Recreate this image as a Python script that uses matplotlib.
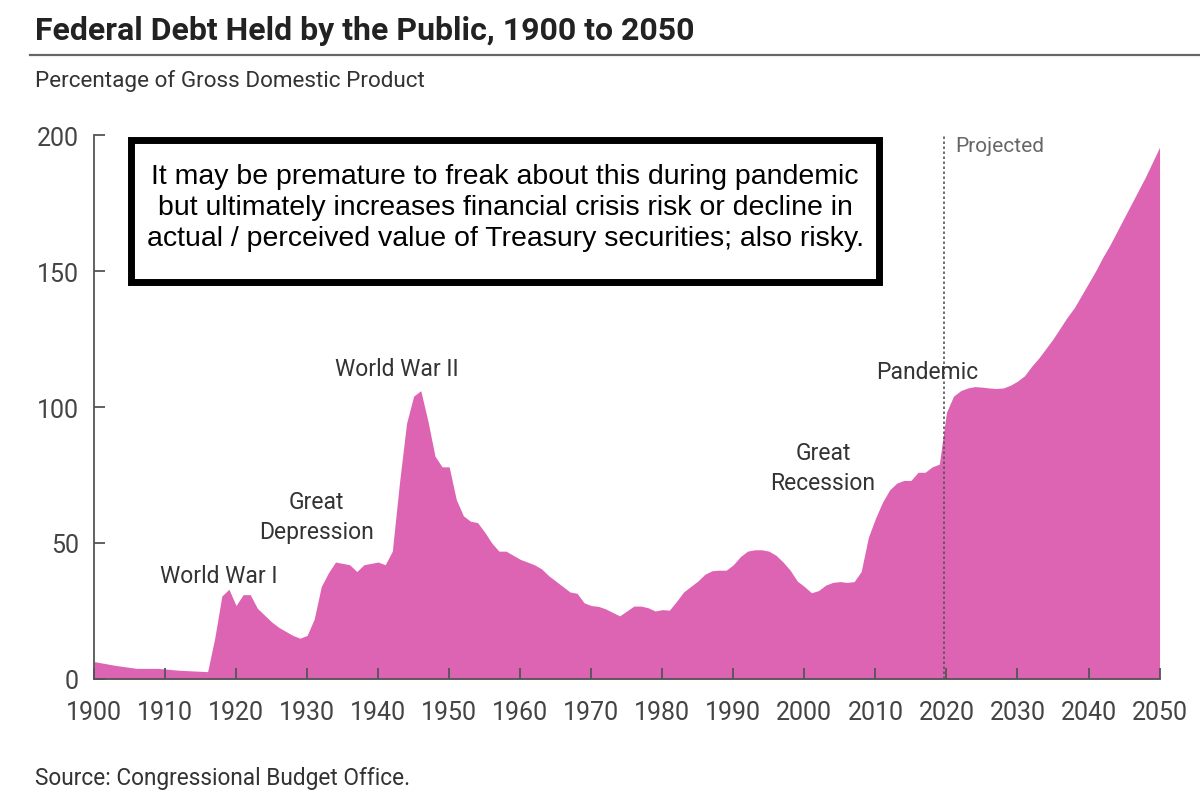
import numpy as np
import matplotlib.pyplot as plt
from matplotlib.patches import Rectangle

# debt held by the public, % of GDP
years = [1900, 1903, 1906, 1909, 1912, 1916, 1917, 1918, 1919, 1920,
         1921, 1922, 1923, 1924, 1925, 1926, 1927, 1928, 1929, 1930,
         1931, 1932, 1933, 1934, 1935, 1936, 1937, 1938, 1939, 1940,
         1941, 1942, 1943, 1944, 1945, 1946, 1947, 1948, 1949, 1950,
         1951, 1952, 1953, 1954, 1955, 1956, 1957, 1958, 1959, 1960,
         1961, 1962, 1963, 1964, 1965, 1966, 1967, 1968, 1969, 1970,
         1971, 1972, 1973, 1974, 1975, 1976, 1977, 1978, 1979, 1980,
         1981, 1982, 1983, 1984, 1985, 1986, 1987, 1988, 1989, 1990,
         1991, 1992, 1993, 1994, 1995, 1996, 1997, 1998, 1999, 2000,
         2001, 2002, 2003, 2004, 2005, 2006, 2007, 2008, 2009, 2010,
         2011, 2012, 2013, 2014, 2015, 2016, 2017, 2018, 2019, 2020,
         2021, 2022, 2023, 2024, 2025, 2026, 2027, 2028, 2029, 2030,
         2031, 2032, 2033, 2034, 2035, 2036, 2037, 2038, 2039, 2040,
         2041, 2042, 2043, 2044, 2045, 2046, 2047, 2048, 2049, 2050]
debt = [6.4, 5.0, 3.9, 3.9, 3.2, 2.7, 15.0, 30.5, 33.0, 27.0,
        31.0, 31.0, 26.0, 23.5, 21.0, 19.0, 17.5, 16.0, 15.0, 16.0,
        22.0, 34.0, 39.0, 43.0, 42.5, 42.0, 39.5, 42.0, 42.5, 43.0,
        42.0, 47.0, 72.0, 94.0, 104.0, 106.0, 95.0, 82.0, 78.0, 78.0,
        66.0, 60.0, 58.0, 57.5, 54.0, 50.0, 47.0, 47.0, 45.5, 44.0,
        43.0, 42.0, 40.5, 38.0, 36.0, 34.0, 32.0, 31.5, 28.0, 27.0,
        26.7, 25.8, 24.5, 23.2, 25.0, 26.8, 26.8, 26.2, 25.0, 25.5,
        25.3, 28.5, 32.0, 34.0, 36.0, 38.5, 39.8, 40.0, 40.0, 42.0,
        45.0, 47.0, 47.5, 47.5, 47.0, 45.5, 43.0, 40.0, 36.0, 34.0,
        31.7, 32.5, 34.5, 35.5, 35.8, 35.5, 35.8, 39.5, 52.0, 59.0,
        65.0, 69.5, 72.0, 73.0, 73.0, 76.0, 76.0, 78.0, 79.0, 98.0,
        104.0, 106.0, 107.0, 107.5, 107.3, 107.0, 106.8, 107.0, 108.0, 109.5,
        111.5, 115.0, 118.0, 121.5, 125.0, 129.0, 133.0, 136.5, 141.0, 145.5,
        150.0, 155.0, 159.5, 164.5, 169.5, 174.5, 179.5, 184.5, 190.0, 195.5]

xticks = list(range(1900, 2051, 10))
yticks = [0, 50, 100, 150, 200]
proj_start = 2019.7

events = ['World War I', 'Great\nDepression', 'World War II', 'Great\nRecession', 'Pandemic']
event_x = [1917.5, 1931.3, 1942.7, 2002.6, 2017.3]
event_y = [34, 50, 110, 68, 109]

note = ('It may be premature to freak about this during pandemic\n'
        'but ultimately increases financial crisis risk or decline in\n'
        'actual / perceived value of Treasury securities; also risky.')

plt.rcParams['font.family'] = ['Roboto', 'DejaVu Sans']
pink = '#dc64b2'
grey = '#444444'

fig = plt.figure(figsize=(12, 8.03), dpi=100)
ax = fig.add_axes([0.0783, 0.1532, 0.888, 0.6774])

ax.fill_between(years, debt, 0, color=pink, lw=0)
ax.axvline(proj_start, ymin=0, ymax=1, color='#555555', lw=1.2, ls=(0, (1.5, 1.5)))

ax.set_xlim(1900, 2050)
ax.set_ylim(0, 200)
ax.set_xticks(xticks)
ax.set_yticks(yticks)
ax.tick_params(direction='in', length=8, width=1.3, colors='#555555',
               labelcolor=grey, labelsize=18, pad=15)
ax.tick_params(axis='y', pad=11)
for side in ['top', 'right']:
    ax.spines[side].set_visible(False)
for side in ['left', 'bottom']:
    ax.spines[side].set_color('#555555')
    ax.spines[side].set_linewidth(1.3)

for label, x, y in zip(events, event_x, event_y):
    ax.text(x, y, label, ha='center', va='bottom', fontsize=16.5, color='#333333',
            linespacing=1.4)
ax.text(2021.3, 196, 'Projected', ha='left', va='center', fontsize=15, color='#666666')

# titles and source
fig.text(0.029, 0.962, 'Federal Debt Held by the Public, 1900 to 2050', fontsize=23,
         fontweight='bold', color='#222222', va='center', ha='left')
fig.add_artist(plt.Line2D([0.025, 1.0], [0.930, 0.930], transform=fig.transFigure,
                          color='#666666', lw=1.6))
fig.text(0.029, 0.899, 'Percentage of Gross Domestic Product', fontsize=16.2,
         color='#333333', va='center', ha='left')
fig.text(0.029, 0.030, 'Source: Congressional Budget Office.', fontsize=16.3,
         color='#333333', va='center', ha='left')

# boxed comment
fig.add_artist(Rectangle((0.1088, 0.647), 0.6233, 0.178, transform=fig.transFigure,
                         facecolor='white', edgecolor='black', lw=5, zorder=5))
fig.text(0.421, 0.741, note, fontsize=20.5, ha='center', va='center',
         family=['Liberation Sans', 'DejaVu Sans'], color='black', linespacing=1.26, zorder=6)

fig.savefig('out.png', dpi=100)
